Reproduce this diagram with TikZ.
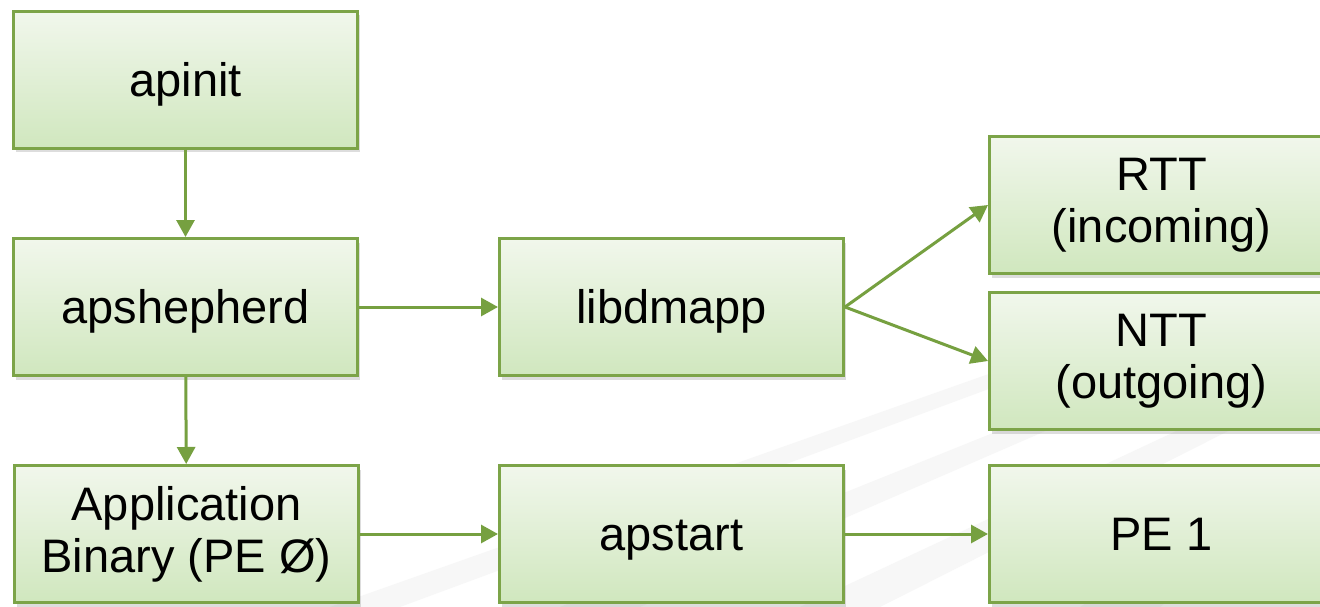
\documentclass[tikz,border=0pt]{standalone}
\usepackage{fontspec}
\setmainfont{Liberation Sans}
\usetikzlibrary{arrows.meta,shadows}
\definecolor{boxline}{RGB}{124,164,72}
\definecolor{arrowc}{RGB}{118,160,64}
\definecolor{topc}{RGB}{241,247,236}
\definecolor{botc}{RGB}{208,231,190}
\definecolor{wm}{RGB}{247,247,247}
\newcommand\boxstrut{\rule[-10pt]{0pt}{52.5pt}}
\begin{document}
\begin{tikzpicture}[x=1pt,y=-1pt,
  box/.style={draw=boxline, line width=3pt, rectangle, minimum width=344pt, minimum height=137pt,
    top color=topc, bottom color=botc, anchor=north west, align=center,
    font=\fontsize{47}{52}\selectfont, inner sep=0pt,
    execute at begin node=\boxstrut, execute at end node=\boxstrut,
    drop shadow={shadow xshift=2pt, shadow yshift=-4pt, opacity=0.22, fill=black!60}},
  conn/.style={draw=arrowc, line width=3pt, -{Triangle[length=17pt,width=18pt]}}]
\useasboundingbox (0,0) rectangle (1320,607);
\fill[white] (0,0) rectangle (1320,607);
% faint background rays
\fill[wm] (330,607) -- (1000,370) -- (1040,370) -- (400,607) -- cycle;
\fill[wm] (560,607) -- (1100,390) -- (1140,390) -- (640,607) -- cycle;
\fill[wm] (800,607) -- (1200,420) -- (1250,420) -- (880,607) -- cycle;
\fill[wm] (1080,607) -- (1300,470) -- (1320,480) -- (1160,607) -- cycle;
% nodes
\node[box] (apinit) at (12,10) {apinit};
\node[box] (apsh) at (12,237) {apshepherd};
\node[box] (appbin) at (13,464) {Application\\Binary (PE Ø)};
\node[box] (libd) at (498,237) {libdmapp};
\node[box] (apstart) at (498,464) {apstart};
\node[box] (rtt) at (988,135) {RTT\\(incoming)};
\node[box] (ntt) at (988,291) {NTT\\(outgoing)};
\node[box] (pe1) at (988,464) {PE 1};
% connectors
\draw[conn] (apinit) -- (apsh);
\draw[conn] (apsh) -- (appbin);
\draw[conn] (apsh) -- (libd);
\draw[conn] (libd.east) -- (rtt.west);
\draw[conn] (libd.east) -- (ntt.west);
\draw[conn] (appbin) -- (apstart);
\draw[conn] (apstart) -- (pe1);
\end{tikzpicture}
\end{document}
